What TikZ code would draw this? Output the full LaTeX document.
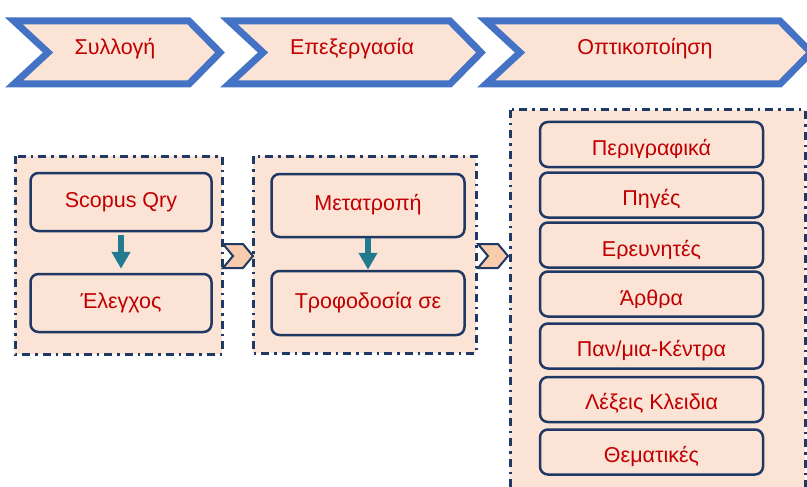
\documentclass[tikz,border=0pt]{standalone}
\usepackage{fontspec}
\setmainfont{Liberation Sans}
\usetikzlibrary{arrows.meta}
\definecolor{peach}{HTML}{FBE3D6}
\definecolor{stageblue}{HTML}{4472C4}
\definecolor{navy}{HTML}{1F3864}
\definecolor{tealdown}{HTML}{217A8E}
\definecolor{tipfill}{HTML}{F8CBAD}
\definecolor{txtred}{HTML}{C00000}
\tikzset{
	stage/.style={line width=7pt, color=stageblue, fill=peach},
	group/.style={line width=3pt, color=navy, fill=peach, dash pattern=on 8pt off 5pt on 2.5pt off 5pt},
	item/.style={draw=navy, line width=2.5pt, fill=peach, rounded corners=8pt, text=txtred, font=\fontsize{21.5}{25}\selectfont, text height=14pt, text depth=4pt, inner sep=0pt},
	listitem/.style={item, minimum width=223pt, minimum height=45pt, text height=20pt, text depth=0pt},
	label/.style={text=txtred, font=\fontsize{21.5}{25}\selectfont, inner sep=0pt},
	downarrow/.style={line width=6.5pt, color=tealdown, -{Triangle[width=18pt,length=17pt]}},
	tip/.style={line width=2pt, draw=navy, fill=tipfill}
}

\begin{document}
\begin{tikzpicture}[x=1pt, y=-1pt]
			%%%%% START %%%%%
			\useasboundingbox (0,0) rectangle (807,487);
			\clip (0,0) rectangle (807,487);
			
			\draw[stage] (14,21) -- (189,21) -- (220,52.5) -- (189,84) -- (14,84) -- (48,52.5) -- cycle;
			\draw[stage] (229,21) -- (450,21) -- (481,52.5) -- (450,84) -- (229,84) -- (263,52.5) -- cycle;
			\draw[stage] (486,21) -- (780,21) -- (811,52.5) -- (780,84) -- (486,84) -- (520,52.5) -- cycle;
			\node[label] (syllogi) at (115,49) {Συλλογή};
			\node[label] (epexergasia) at (352,49) {Επεξεργασία};
			\node[label] (optikopoiisi) at (645,49) {Οπτικοποίηση};
			
			\draw[group] (15,156) rectangle (222,354);
			\draw[group] (253,156) rectangle (476,353);
			\draw[group] (510,110) rectangle (805,500);
			
			\draw[tip] (223,244) -- (243,244) -- (253,256) -- (243,268) -- (223,268) -- (233,256) -- cycle;
			\draw[tip] (478,244) -- (498,244) -- (508,256) -- (498,268) -- (478,268) -- (488,256) -- cycle;
			
			\node[item, minimum width=181pt, minimum height=58pt] (scopus) at (121,202) {Scopus Qry};
			\node[item, minimum width=181pt, minimum height=58pt] (elegxos) at (121,303) {Έλεγχος};
			\draw[downarrow, shorten <=3pt, shorten >=4pt] (scopus) -- (elegxos);
			
			\node[item, minimum width=193pt, minimum height=63pt] (metatropi) at (368,205.5) {Μετατροπή};
			\node[item, minimum width=193pt, minimum height=64pt] (trofodosia) at (368,303) {Τροφοδοσία σε};
			\draw[downarrow] (metatropi) -- (trofodosia);
			
			\node[listitem] (perigrafika) at (651.5,144.5) {};
			\node[listitem] (piges) at (651.5,195) {};
			\node[listitem] (ereunites) at (651.5,245) {};
			\node[listitem] (arthra) at (651.5,294) {};
			\node[listitem] (kentra) at (651.5,346) {Παν/μια-Κέντρα};
			\node[listitem] (lexeis) at (651.5,399.5) {Λέξεις Κλειδια};
			\node[listitem] (thematikes) at (651.5,452) {Θεματικές};
			
			\begin{scope}
				\clip (perigrafika.north west) rectangle (perigrafika.east |- 0,157);
				\node[label, anchor=base] (perigrafika text) at (perigrafika.center |- 0,155) {Περιγραφικά};
			\end{scope}
			\begin{scope}
				\clip (piges.north west) rectangle (piges.east |- 0,207);
				\node[label, anchor=base] (piges text) at (piges.center |- 0,205) {Πηγές};
			\end{scope}
			\begin{scope}
				\clip (ereunites.north west) rectangle (ereunites.east |- 0,258);
				\node[label, anchor=base] (ereunites text) at (ereunites.center |- 0,256) {Ερευνητές};
			\end{scope}
			\begin{scope}
				\clip (arthra.north west) rectangle (arthra.east |- 0,307);
				\node[label, anchor=base] (arthra text) at (arthra.center |- 0,305) {Άρθρα};
			\end{scope}
			
			%%%%% END %%%%%
\end{tikzpicture}
\end{document}
